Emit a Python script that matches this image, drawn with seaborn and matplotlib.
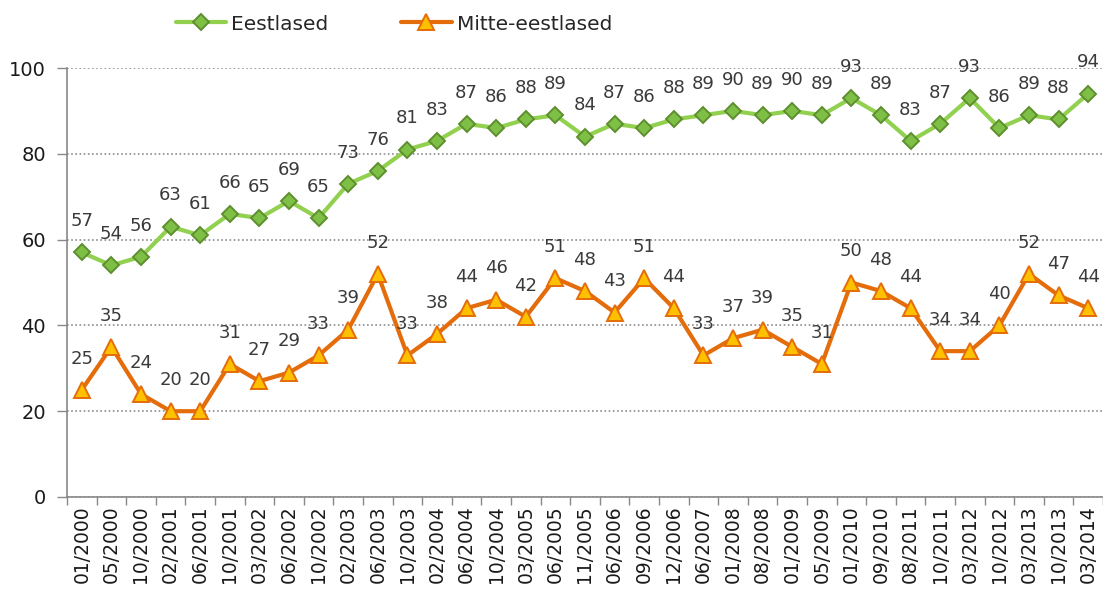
import matplotlib
matplotlib.use("Agg")
import matplotlib.pyplot as plt
import seaborn as sns
import pandas as pd
import numpy as np
from matplotlib.ticker import MultipleLocator, FixedLocator

categories = ["01/2000", "05/2000", "10/2000", "02/2001", "06/2001", "10/2001",
              "03/2002", "06/2002", "10/2002", "02/2003", "06/2003", "10/2003",
              "02/2004", "06/2004", "10/2004", "03/2005", "06/2005", "11/2005",
              "06/2006", "09/2006", "12/2006", "06/2007", "01/2008", "08/2008",
              "01/2009", "05/2009", "01/2010", "09/2010", "08/2011", "10/2011",
              "03/2012", "10/2012", "03/2013", "10/2013", "03/2014"]
eestlased = [57, 54, 56, 63, 61, 66, 65, 69, 65, 73, 76, 81, 83, 87, 86, 88, 89, 84,
             87, 86, 88, 89, 90, 89, 90, 89, 93, 89, 83, 87, 93, 86, 89, 88, 94]
mitte_eestlased = [25, 35, 24, 20, 20, 31, 27, 29, 33, 39, 52, 33, 38, 44, 46, 42, 51, 48,
                   43, 51, 44, 33, 37, 39, 35, 31, 50, 48, 44, 34, 34, 40, 52, 47, 44]
series_names = ["Eestlased", "Mitte-eestlased"]

sns.set_style("white")
plt.rcParams['font.family'] = ['DejaVu Sans']

W, H = 1103, 595
fig = plt.figure(figsize=(W / 100, H / 100), dpi=100)
ax = fig.add_axes([67 / W, 98 / H, 1036 / W, 429 / H])

pos = np.arange(len(categories))
df = pd.DataFrame({"pos": pos, "Eestlased": eestlased, "Mitte-eestlased": mitte_eestlased})

styles = {
    "Eestlased": dict(color="#92D050", marker="D", markersize=8.5,
                      markerfacecolor="#7EBF45", markeredgecolor="#5E8F2E",
                      markeredgewidth=1.4),
    "Mitte-eestlased": dict(color="#E46C0A", marker="^", markersize=12,
                            markerfacecolor="#FFC000", markeredgecolor="#E46C0A",
                            markeredgewidth=1.4),
}

for name in series_names:
    sns.lineplot(data=df, x="pos", y=name, ax=ax, sort=False, linewidth=3,
                 label=name, legend=False, zorder=3, **styles[name])
    for i, v in zip(df["pos"], df[name]):
        ax.annotate(str(v), (i, v), xytext=(0, 22.5), textcoords="offset points",
                    ha="center", va="center", fontsize=13, color="#3a3a3a", zorder=4)

ax.set_xlim(-0.5, len(categories) - 0.5)
ax.set_ylim(0, 100)
ax.yaxis.set_major_locator(MultipleLocator(20))
ax.set_xticks(pos)
ax.set_xticklabels(categories, rotation=90, fontsize=13.5, color="#1a1a1a")
ax.xaxis.set_minor_locator(FixedLocator(np.arange(-0.5, len(categories), 1.0)))
ax.tick_params(axis="x", which="major", length=0, pad=6)
ax.tick_params(axis="x", which="minor", length=6, width=1, color="#888888", direction="out", bottom=True)
ax.tick_params(axis="y", which="major", length=7, width=1, color="#888888", direction="out",
               labelsize=14, labelcolor="#1a1a1a", pad=8, left=True)
ax.set_xlabel("")
ax.set_ylabel("")

ax.yaxis.grid(True, linestyle=(0, (1, 1.5)), color="#8c8c8c", linewidth=1.2)
ax.xaxis.grid(False)
for s in ["top", "right"]:
    ax.spines[s].set_visible(False)
for s in ["left", "bottom"]:
    ax.spines[s].set_color("#888888")
    ax.spines[s].set_linewidth(1.2)

handles, labels = ax.get_legend_handles_labels()
fig.legend(handles, labels, loc="center", bbox_to_anchor=(394 / W, 1 - 24 / H), ncol=2,
           frameon=False, fontsize=14.5, handlelength=2.5, handletextpad=0.25,
           columnspacing=3.6)

fig.savefig("out.png", dpi=100)
